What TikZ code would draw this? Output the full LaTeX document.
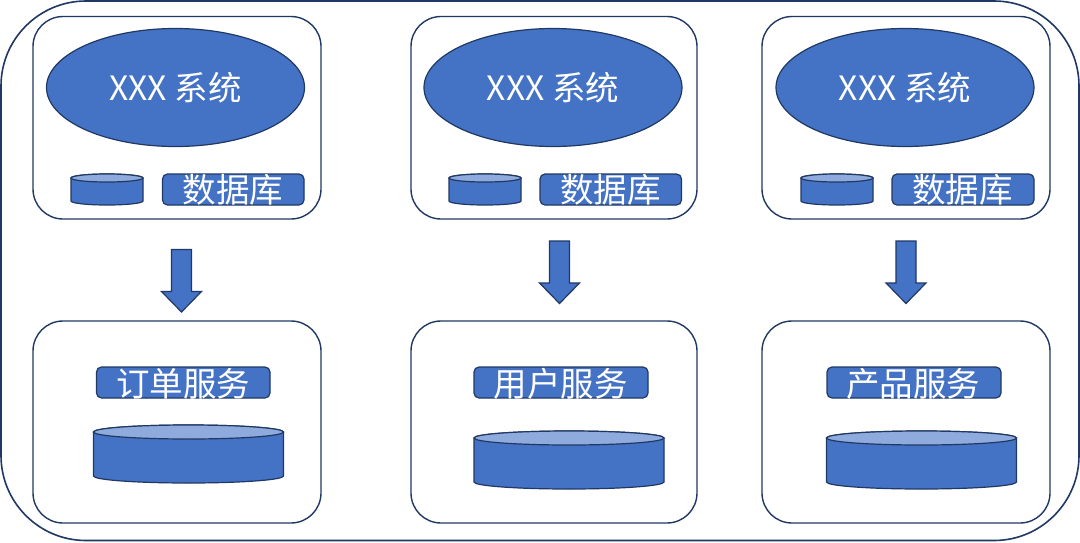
\documentclass[tikz,border=0pt]{standalone}
\usepackage{fontspec}
\setmainfont{Noto Sans CJK SC}
\usetikzlibrary{shapes.geometric}
\definecolor{edge}{HTML}{203864}
\definecolor{fillblue}{HTML}{4472C4}
\definecolor{toplight}{HTML}{8FAADC}
\tikzset{
  x=1pt,y=-1pt,
  panel/.style={draw=edge,line width=1.4pt,fill=white,rounded corners=30pt},
  bluebox/.style={draw=edge,line width=1.2pt,fill=fillblue,rounded corners=5pt},
  sysell/.style={ellipse,draw=edge,line width=1.2pt,fill=fillblue,minimum width=258pt,minimum height=118pt,inner sep=0pt,text=white,font=\fontsize{33.5}{33.5}\selectfont},
  lbl/.style={text=white,inner sep=0pt,font=\fontsize{33.5}{33.5}\selectfont},
  shape line/.style={draw=edge,line width=1.2pt},
  pics/dbcyl/.style n args={3}{code={%
    \path[shape line,fill=fillblue] (0,#3) -- (0,#2-#3)
      arc[x radius=#1/2,y radius=#3,start angle=180,end angle=0]
      -- (#1,#3)
      arc[x radius=#1/2,y radius=#3,start angle=0,end angle=-180] -- cycle;
    \path[shape line,fill=toplight] (#1/2,#3) ellipse[x radius=#1/2,y radius=#3];
  }},
  pics/blockarrow/.style={code={%
    \path[shape line,fill=fillblue] (-10,0) -- (10,0) -- (10,42) -- (20,42) -- (0,#1) -- (-20,42) -- (-10,42) -- cycle;
  }}
}
\begin{document}
\begin{tikzpicture}
\useasboundingbox (0,0) rectangle (1080,542);
\fill[white] (0,0) rectangle (1080,542);
\draw[draw=edge,line width=1.6pt,fill=white,rounded corners=85pt] (1,1) rectangle (1079,540.5);

% upper panels
\draw[panel] (33,16.5) rectangle (321,219);
\draw[panel] (411,16.5) rectangle (697,219);
\draw[panel] (762,16.5) rectangle (1050,219);

% system ellipses
\node[sysell] (sysA) at (175.5,87.5) {\raisebox{-2pt}{XXX 系统}};
\node[sysell] (sysB) at (553,87.5) {\raisebox{-2pt}{XXX 系统}};
\node[sysell] (sysC) at (905,87.5) {\raisebox{-2pt}{XXX 系统}};

% small databases
\pic at (71,174) {dbcyl={72}{31}{4}};
\pic at (449,174) {dbcyl={72}{31}{4}};
\pic at (801,174) {dbcyl={72}{31}{4}};

% database labels
\draw[bluebox] (162.5,174) rectangle (304,205);
\draw[bluebox] (540,174) rectangle (681.5,205);
\draw[bluebox] (892,174) rectangle (1034,205);
\node[lbl] (dbA) at (233,190) {数据库};
\node[lbl] (dbB) at (610.5,190) {数据库};
\node[lbl] (dbC) at (962.5,190) {数据库};

% arrows
\pic at (181.5,249.5) {blockarrow=62.5};
\pic at (559.5,241) {blockarrow=62.5};
\pic at (906,241) {blockarrow=62.5};

% lower panels
\draw[panel] (33,321) rectangle (321,523);
\draw[panel] (411,321) rectangle (697,523);
\draw[panel] (762,321) rectangle (1050,523);

% service labels
\draw[bluebox] (96.5,367) rectangle (270,398);
\draw[bluebox] (474,367) rectangle (648,398);
\draw[bluebox] (827,367) rectangle (1001,398);
\node[lbl] (svcA) at (183,384) {订单服务};
\node[lbl] (svcB) at (560.5,384) {用户服务};
\node[lbl] (svcC) at (913,384) {产品服务};

% large databases
\pic at (93.5,425) {dbcyl={190}{58}{7}};
\pic at (474,431) {dbcyl={190}{58}{7}};
\pic at (826.5,431) {dbcyl={190}{58}{7}};
\end{tikzpicture}
\end{document}
